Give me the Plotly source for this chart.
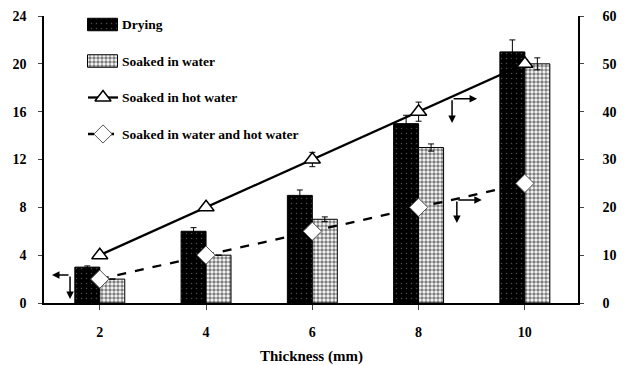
import plotly.graph_objects as go

thickness = [2, 4, 6, 8, 10]
drying = [3, 6, 9, 15, 21]
drying_err = [0.1, 0.3, 0.45, 0.7, 1.0]
soaked = [2, 4, 7, 13, 20]
soaked_err = [0.0, 0.0, 0.2, 0.3, 0.5]
hot = [10, 20, 30, 40, 50]
hot_err = [0.5, 0.5, 1.5, 2.0, 0.8]
both = [5, 10, 15, 20, 25]
left_ticks = [0, 4, 8, 12, 16, 20, 24]
right_ticks = [0, 10, 20, 30, 40, 50, 60]
names = ["Drying", "Soaked in water", "Soaked in hot water", "Soaked in water and hot water"]

FONT = "Liberation Serif"
bw = 0.47

DRY_PAT = dict(shape=".", bgcolor="black", fgcolor="#9a9a9a", size=5, solidity=0.07)
SOAK_PAT = dict(shape=".", bgcolor="white", fgcolor="black", size=4, solidity=0.6)
TRI = dict(symbol="triangle-up", size=14, color="white", line=dict(color="black", width=1.5))
DIA = dict(symbol="diamond", size=14, color="white", line=dict(color="#555555", width=1))

fig = go.Figure()
fig.add_trace(go.Bar(
    x=thickness, y=drying, width=bw, offset=-bw, name=names[0],
    marker=dict(color="black", line=dict(color="black", width=1), pattern=DRY_PAT),
    error_y=dict(type="data", array=drying_err, color="black", thickness=1, width=3)))
fig.add_trace(go.Bar(
    x=thickness, y=soaked, width=bw, offset=0, name=names[1],
    marker=dict(color="white", line=dict(color="black", width=1), pattern=SOAK_PAT),
    error_y=dict(type="data", array=soaked_err, color="black", thickness=1, width=3)))
fig.add_trace(go.Scatter(
    x=thickness, y=hot, yaxis="y2", mode="lines+markers", name=names[2],
    line=dict(color="black", width=2.3), marker=TRI,
    error_y=dict(type="data", array=hot_err, color="black", thickness=1, width=3)))
fig.add_trace(go.Scatter(
    x=thickness, y=both, yaxis="y2", mode="lines+markers", name=names[3],
    line=dict(color="black", width=2.3, dash="dash"), marker=DIA))

# --- manual legend on an auxiliary pixel-like axis pair (screen coordinates) ---
leg_y = [24.5, 61, 97.5, 134]
fig.add_trace(go.Bar(x=[30], y=[leg_y[0]], base=[87.5], width=[12.5], orientation="h",
                     xaxis="x3", yaxis="y3", showlegend=False, hoverinfo="skip",
                     marker=dict(color="black", line=dict(color="black", width=1), pattern=DRY_PAT)))
fig.add_trace(go.Bar(x=[30], y=[leg_y[1]], base=[87.5], width=[12.5], orientation="h",
                     xaxis="x3", yaxis="y3", showlegend=False, hoverinfo="skip",
                     marker=dict(color="white", line=dict(color="black", width=1), pattern=SOAK_PAT)))
fig.add_trace(go.Scatter(x=[88, 118], y=[leg_y[2]] * 2, xaxis="x3", yaxis="y3", mode="lines",
                         line=dict(color="black", width=2.3), showlegend=False, hoverinfo="skip"))
fig.add_trace(go.Scatter(x=[103], y=[leg_y[2]], xaxis="x3", yaxis="y3", mode="markers",
                         marker=TRI, showlegend=False, hoverinfo="skip"))
fig.add_trace(go.Scatter(x=[88, 118], y=[leg_y[3]] * 2, xaxis="x3", yaxis="y3", mode="lines",
                         line=dict(color="black", width=2.3, dash="6px,4px"), showlegend=False,
                         hoverinfo="skip"))
fig.add_trace(go.Scatter(x=[103], y=[leg_y[3]], xaxis="x3", yaxis="y3", mode="markers",
                         marker=DIA, showlegend=False, hoverinfo="skip"))
for nm, yy in zip(names, leg_y):
    fig.add_annotation(x=120, y=yy, xref="x3", yref="y3", text=nm, showarrow=False,
                       xanchor="left", yanchor="middle",
                       font=dict(family=FONT, size=13.5, color="black", weight="bold"))


def arrow(x, y, ax, ay):
    fig.add_annotation(x=x, y=y, ax=ax, ay=ay, xref="x", yref="y", axref="x", ayref="y",
                       text="", showarrow=True, arrowhead=2, arrowsize=1, arrowwidth=1.5,
                       arrowcolor="black")


# left group
arrow(1.10, 2.34, 1.44, 2.34)
arrow(1.44, 0.33, 1.44, 2.34)
# right group 1
arrow(9.10, 17.07, 8.63, 17.07)
arrow(8.63, 15.05, 8.63, 17.07)
# right group 2
arrow(9.19, 8.61, 8.72, 8.61)
arrow(8.72, 6.69, 8.72, 8.61)

fig.add_annotation(x=0.5, y=-0.185, xref="paper", yref="paper", text="Thickness (mm)",
                   showarrow=False, xanchor="center", yanchor="middle",
                   font=dict(family=FONT, size=15, color="black", weight="bold"))

tf = dict(family=FONT, size=14, weight="bold", color="black")
# page body has an 8px margin: figure is sized/offset so the plot lands where the reference has it
fig.update_layout(
    width=617, height=357,
    margin=dict(l=36, r=47, t=8, b=62, autoexpand=False),
    paper_bgcolor="white", plot_bgcolor="white",
    font=dict(family=FONT, size=12, color="black"),
    showlegend=False,
    xaxis=dict(range=[0.95, 11], tickvals=thickness, ticks="outside", ticklen=5,
               showline=True, linecolor="black", linewidth=1.5, showgrid=False, zeroline=False,
               tickfont=tf, ticklabelstandoff=10, automargin=False),
    yaxis=dict(range=[0, 24], tickvals=left_ticks, ticks="outside", ticklen=4,
               showline=True, linecolor="black", linewidth=1.5, showgrid=False, zeroline=False,
               tickfont=tf, ticklabelstandoff=9, automargin=False),
    yaxis2=dict(range=[0, 60], tickvals=right_ticks, ticks="outside", ticklen=4,
                overlaying="y", side="right",
                showline=True, linecolor="black", linewidth=1.5, showgrid=False, zeroline=False,
                tickfont=tf, ticklabelstandoff=16, automargin=False),
    xaxis3=dict(range=[44, 578], overlaying="x", anchor="y3", visible=False, fixedrange=True),
    yaxis3=dict(range=[303, 16], overlaying="y", anchor="x3", visible=False, fixedrange=True),
)

fig.write_html("out.html")
